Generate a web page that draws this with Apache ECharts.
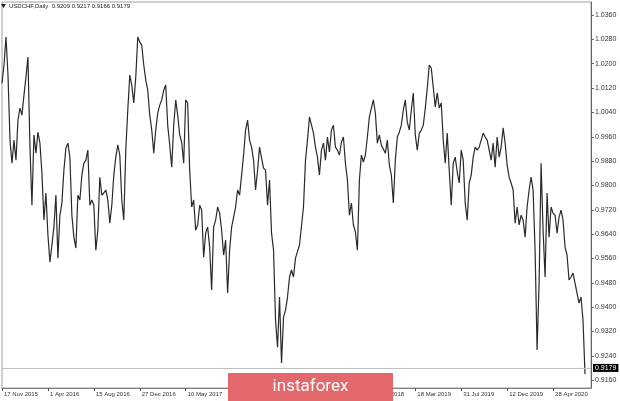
<!DOCTYPE html>
<html>
<head>
<meta charset="utf-8">
<script src="https://cdn.jsdelivr.net/npm/echarts@6/dist/echarts.min.js"></script>
<style>
html,body{margin:0;padding:0;background:#fff;}
#chart{width:620px;height:401px;}
</style>
</head>
<body>
<div id="chart"></div>
<script>
// Daily closes, sampled along the chart (oldest first)
const prices = [
1.0136,1.0196,1.0288,1.0163,0.9949,0.9873,0.9949,0.9883,1.0015,1.0054,
1.0031,1.0097,1.0156,1.0222,0.9926,0.9735,0.9966,0.9906,0.9975,0.9939,
0.9841,0.9686,0.9775,0.9637,0.9548,0.9604,0.9663,0.9768,0.9561,0.9702,
0.9742,0.9850,0.9923,0.9939,0.9893,0.9702,0.9630,0.9594,0.9768,0.9752,
0.9834,0.9873,0.9883,0.9916,0.9735,0.9752,0.9735,0.9587,0.9653,0.9827,
0.9768,0.9775,0.9785,0.9752,0.9676,0.9735,0.9834,0.9893,0.9933,0.9900,
0.9752,0.9686,0.9916,1.0048,1.0163,1.0130,1.0071,1.0156,1.0288,1.0271,
1.0261,1.0196,1.0146,1.0113,1.0031,0.9982,0.9906,0.9982,1.0038,1.0064,
1.0081,1.0113,1.0130,0.9998,0.9933,0.9860,0.9998,1.0081,1.0031,0.9966,
0.9942,0.9873,1.0081,1.0071,0.9850,0.9729,0.9752,0.9653,0.9670,0.9735,
0.9719,0.9564,0.9643,0.9663,0.9597,0.9456,0.9663,0.9686,0.9729,0.9709,
0.9653,0.9571,0.9620,0.9446,0.9587,0.9663,0.9696,0.9729,0.9785,0.9768,
0.9834,0.9900,0.9982,1.0015,0.9949,0.9926,0.9883,0.9785,0.9850,0.9926,
0.9890,0.9857,0.9850,0.9735,0.9818,0.9643,0.9587,0.9357,0.9268,0.9433,
0.9216,0.9367,0.9390,0.9433,0.9499,0.9522,0.9499,0.9561,0.9555,0.9604,
0.9610,0.9729,0.9883,0.9949,1.0025,1.0031,0.9972,0.9926,0.9893,0.9834,
0.9916,0.9939,0.9883,0.9959,0.9910,0.9982,0.9998,0.9926,0.9916,0.9900,
0.9942,0.9959,0.9873,0.9818,0.9702,0.9742,0.9670,0.9647,0.9587,0.9818,
0.9900,0.9877,0.9900,0.9959,1.0025,1.0054,1.0081,1.0038,0.9939,0.9966,
0.9933,0.9939,0.9906,0.9949,0.9867,0.9834,0.9742,0.9883,0.9959,0.9975,
0.9998,1.0048,1.0081,1.0008,0.9982,1.0048,1.0104,0.9966,0.9916,0.9972,
0.9982,0.9998,1.0054,1.0120,1.0196,1.0186,1.0189,1.0058,1.0104,1.0054,
1.0071,0.9949,0.9873,0.9972,0.9850,0.9735,0.9873,0.9893,0.9844,0.9808,
0.9916,0.9883,0.9742,0.9686,0.9808,0.9834,0.9893,0.9926,0.9916,0.9926,
0.9923,0.9972,0.9959,0.9949,0.9916,0.9883,0.9939,0.9860,0.9959,0.9893,
0.9926,0.9989,0.9939,0.9867,0.9827,0.9808,0.9785,0.9676,0.9729,0.9670,
0.9702,0.9686,0.9630,0.9729,0.9785,0.9827,0.9785,0.9587,0.9259,0.9479,
0.9873,0.9653,0.9499,0.9775,0.9630,0.9729,0.9709,0.9702,0.9643,0.9696,
0.9719,0.9686,0.9597,0.9571,0.9489,0.9499,0.9512,0.9479,0.9446,0.9413,
0.9433,0.9357,0.9179
];
// Date labels along the time axis (every 23 samples)
const dateLabels = ['17 Nov 2015','1 Apr 2016','15 Aug 2016','27 Dec 2016','10 May 2017',
  '22 Sep 2017','2 Feb 2018','18 Jun 2018','31 Oct 2018','18 Mar 2019','31 Jul 2019','12 Dec 2019','28 Apr 2020'];
const labelEvery = 23;
const totalSlots = 296; // includes empty right shift
// Price scale labels
const priceTicks = [0.9160,0.9240,0.9320,0.9400,0.9480,0.9560,0.9640,0.9720,0.9800,0.9880,0.9960,1.0040,1.0120,1.0200,1.0280,1.0360];
const lastPrice = 0.9179;
const headerText = 'USDCHF,Daily  0.9209 0.9217 0.9166 0.9179';

const cats = [];
for (let i = 0; i < totalSlots; i++) {
  cats.push(i % labelEvery === 0 && dateLabels[i / labelEvery] ? dateLabels[i / labelEvery] : '');
}
const showIdx = (i) => i % labelEvery === 0 && i / labelEvery < dateLabels.length;

const chart = echarts.init(document.getElementById('chart'), null, {renderer: 'canvas'});
chart.setOption({
  animation: false,
  backgroundColor: '#ffffff',
  textStyle: {fontFamily: 'Liberation Sans'},
  grid: {left: 2, right: 29, top: 2, bottom: 13, show: true, borderColor: '#a0a0a0', borderWidth: 1},
  xAxis: {
    type: 'category', data: cats, boundaryGap: false,
    axisLine: {show: true, lineStyle: {color: '#808080', width: 1}},
    axisTick: {show: true, interval: showIdx, length: 3, lineStyle: {color: '#555'}},
    axisLabel: {interval: showIdx, align: 'left', margin: 3, fontSize: 6, color: '#333',
      fontFamily: 'Liberation Sans', padding: [0, 0, 0, 2]},
    splitLine: {show: false}
  },
  yAxis: {
    type: 'value', position: 'right', min: 0.9134, max: 1.0403,
    splitLine: {show: false},
    axisLine: {show: true, lineStyle: {color: '#666', width: 1}},
    axisTick: {show: true, customValues: priceTicks, length: 3, lineStyle: {color: '#666'}},
    axisLabel: {customValues: priceTicks, formatter: (v) => v.toFixed(4), fontSize: 7, margin: 4,
      color: '#333', fontFamily: 'Liberation Sans'}
  },
  series: [{
    type: 'line', data: prices, showSymbol: false, symbol: 'none',
    lineStyle: {color: '#2a2a2a', width: 1.2},
    markLine: {
      silent: true, symbol: ['none', 'none'],
      lineStyle: {color: '#c0c0c0', width: 1, type: 'solid'},
      label: {show: true, position: 'end', distance: 2, formatter: lastPrice.toFixed(4),
        backgroundColor: '#000', color: '#fff', fontSize: 7, padding: [1, 2, 0, 2],
        fontFamily: 'Liberation Sans'},
      data: [{yAxis: lastPrice}]
    }
  }],
  graphic: [
    {type: 'polygon', shape: {points: [[1, 4], [6, 4], [3.5, 8]]}, style: {fill: '#222'}},
    {type: 'text', left: 9, top: 3, style: {text: headerText, fontSize: 6, fill: '#222', fontFamily: 'Liberation Sans'}},
    {type: 'rect', shape: {x: 228, y: 373, width: 165, height: 28}, style: {fill: '#e2686b'}, z: 100},
    {type: 'text', z: 101, x: 310.5, y: 387, style: {text: 'instaforex', fontSize: 17, fill: '#ffffff',
      fontFamily: 'Roboto', align: 'center', verticalAlign: 'middle'}}
  ]
});
</script>
</body>
</html>
